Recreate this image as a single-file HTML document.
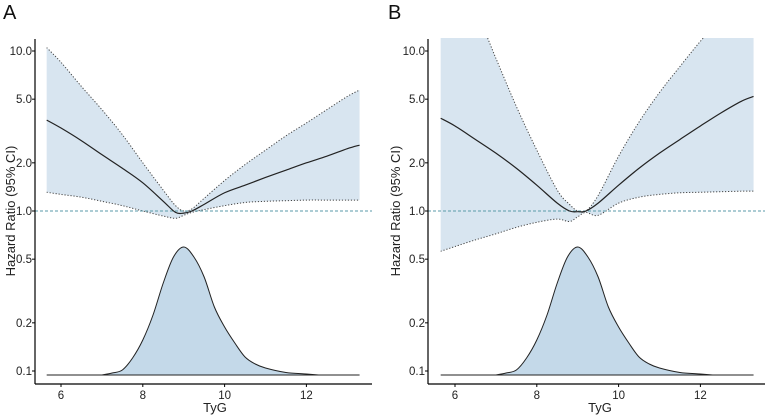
<!DOCTYPE html>
<html><head><meta charset="utf-8"><style>
body{margin:0;background:#fff;}
svg{display:block;font-family:"Liberation Sans",sans-serif;}
</style></head><body>
<svg id="chart" width="767" height="415" viewBox="0 0 767 415"></svg>
<script>
const xs = [5.65,6,6.5,7,7.5,8,8.5,8.8,9,9.2,9.5,10,10.5,11,11.5,12,12.5,13,13.3];
const hrA = [3.7,3.3,2.75,2.25,1.85,1.5,1.15,0.98,0.97,1.0,1.1,1.3,1.45,1.62,1.8,2.0,2.2,2.45,2.58];
const upA = [10.5,8.5,6.0,4.3,3.0,2.0,1.35,1.08,1.0,1.03,1.2,1.55,1.95,2.4,2.95,3.55,4.3,5.2,5.7];
const loA = [1.31,1.27,1.22,1.15,1.08,1.0,0.93,0.9,0.94,0.98,1.02,1.08,1.13,1.15,1.16,1.17,1.17,1.17,1.17];
const hrB = [3.8,3.4,2.8,2.3,1.85,1.45,1.12,1.0,0.99,1.0,1.12,1.45,1.85,2.3,2.8,3.4,4.1,4.85,5.2];
const upB = [40,28,18,9,4.5,2.4,1.35,1.1,1.0,1.0,1.25,2.2,3.6,5.5,8,11.5,16,22,26];
const loB = [0.56,0.6,0.66,0.72,0.79,0.85,0.89,0.86,0.92,0.98,0.94,1.12,1.22,1.27,1.3,1.31,1.32,1.33,1.33];
const densX = [7.0,7.25,7.5,7.75,8.0,8.25,8.5,8.75,9.0,9.25,9.5,9.75,10.0,10.25,10.5,10.75,11.0,11.5,12.0,12.3];
const densY = [0,2,5,17,35,60,92,118,128,118,98,68,48,32,18,11,7,2.5,1,0];
const yTicks = [10,5,2,1,0.5,0.2,0.1];
const yTickLabels = ["10.0","5.0","2.0","1.0","0.5","0.2","0.1"];
const xTicks = [6,8,10,12];

const NS="http://www.w3.org/2000/svg";
const svg=document.getElementById('chart');
function mk(tag,attrs,parent){const e=document.createElementNS(NS,tag);for(const k in attrs)e.setAttribute(k,attrs[k]);(parent||svg).appendChild(e);return e;}
function smooth(pts,start){
 let d=(start?'M':'L')+pts[0][0]+','+pts[0][1];
 for(let i=0;i<pts.length-1;i++){
  const p0=pts[Math.max(0,i-1)],p1=pts[i],p2=pts[i+1],p3=pts[Math.min(pts.length-1,i+2)];
  const c1x=p1[0]+(p2[0]-p0[0])/6,c1y=p1[1]+(p2[1]-p0[1])/6;
  const c2x=p2[0]-(p3[0]-p1[0])/6,c2y=p2[1]-(p3[1]-p1[1])/6;
  d+='C'+c1x+','+c1y+' '+c2x+','+c2y+' '+p2[0]+','+p2[1];
 }
 return d;
}

const panels=[
 {label:"A",off:0,axisX:35,x6:61,unit:40.9,hr:hrA,up:upA,lo:loA,right:372},
 {label:"B",off:385,axisX:428,x6:455,unit:40.9,hr:hrB,up:upB,lo:loB,right:765}
];
const yS=v=>211-160*Math.log10(v);
const baseY=375;
panels.forEach((p,i)=>{
 const g=mk('g',{});
 
 
 const xS=v=>p.x6+(v-6)*p.unit;
 const cid='clip'+i;
 const cp=mk('clipPath',{id:cid},g);
 mk('rect',{x:p.axisX,y:38,width:p.right-p.axisX,height:350},cp);
 const pg=mk('g',{'clip-path':'url(#'+cid+')'},g);
 const upPts=xs.map((x,j)=>[xS(x),yS(p.up[j])]);
 const loPts=xs.map((x,j)=>[xS(x),yS(p.lo[j])]);
 const hrPts=xs.map((x,j)=>[xS(x),yS(p.hr[j])]);
 const band=mk('path',{d:smooth(upPts,true)+smooth(loPts.slice().reverse(),false)+'Z',fill:'#d8e5f0',stroke:'none'},pg);
 
 
 const up=mk('path',{d:smooth(upPts,true),fill:'none',stroke:'#444','stroke-width':1,'stroke-dasharray':'1.2,1.8'},pg);
 
 
 const lo=mk('path',{d:smooth(loPts,true),fill:'none',stroke:'#444','stroke-width':1,'stroke-dasharray':'1.2,1.8'},pg);
 
 
 const dPts=densX.map((x,j)=>[xS(x),baseY-densY[j]]);
 const dens=mk('path',{d:smooth(dPts,true)+'Z',fill:'#c4d9e9',stroke:'#222','stroke-width':1},pg);
 
 
 const bl=mk('line',{x1:xS(5.65),x2:xS(13.3),y1:baseY,y2:baseY,stroke:'#222','stroke-width':1},pg);
 
 
 const ref=mk('line',{x1:p.axisX,x2:p.right,y1:yS(1),y2:yS(1),stroke:'#5a9aa8','stroke-width':1,'stroke-dasharray':'3,2'},pg);
 
 
 const hl=mk('path',{d:smooth(hrPts,true),fill:'none',stroke:'#222','stroke-width':1.2},pg);
 
 
 const ya=mk('line',{x1:p.axisX,x2:p.axisX,y1:39,y2:384,stroke:'#000','stroke-width':1.2},g);
 
 
 const xa=mk('line',{x1:p.axisX,x2:p.right,y1:384,y2:384,stroke:'#000','stroke-width':1.2},g);
 
 
 yTicks.forEach((v,j)=>{
  mk('line',{x1:p.axisX-3,x2:p.axisX,y1:yS(v),y2:yS(v),stroke:'#000'},g);
  const t=mk('text',{x:p.axisX-3,y:yS(v)+4,'text-anchor':'end','font-size':11.5,fill:'#222'},g);
  t.textContent=yTickLabels[j];
  
  
 });
 xTicks.forEach(v=>{
  mk('line',{x1:xS(v),x2:xS(v),y1:384,y2:387,stroke:'#000'},g);
  const t=mk('text',{x:xS(v),y:399,'text-anchor':'middle','font-size':11.5,fill:'#222'},g);
  t.textContent=v;
  
  
 });
 const xt=mk('text',{x:p.off+215,y:412,'text-anchor':'middle','font-size':13,fill:'#222'},g);
 xt.textContent='TyG';
 
 
 const yt=mk('text',{x:0,y:0,transform:'translate('+(p.off+15)+',211) rotate(-90)','text-anchor':'middle','font-size':13,fill:'#222'},g);
 yt.textContent='Hazard Ratio (95% CI)';
 
 
 const pl=mk('text',{x:p.off+3,y:19,'font-size':20,fill:'#111'},g);
 pl.textContent=p.label;
 
 
});
</script>
</body></html>
